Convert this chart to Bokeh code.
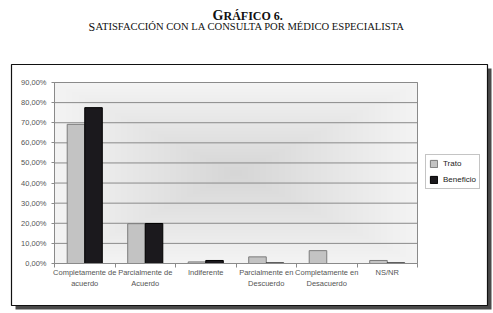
from bokeh.plotting import figure
from bokeh.models import (ColumnDataSource, FixedTicker, Legend, LegendItem,
                          BoxAnnotation, Label)
from bokeh.embed import file_html
from bokeh.resources import INLINE

# ---- data ----
categories = ["Completamente de\nacuerdo", "Parcialmente de\nAcuerdo", "Indiferente",
              "Parcialmente en\nDescuerdo", "Completamente en\nDesacuerdo", "NS/NR"]
trato = [69.2, 19.8, 0.8, 3.3, 6.4, 1.5]
beneficio = [77.5, 19.9, 1.5, 0.3, 0.0, 0.3]
series_names = ["Trato", "Beneficio"]
y_ticks = [0, 10, 20, 30, 40, 50, 60, 70, 80, 90]
y_tick_labels = ["0,00%", "10,00%", "20,00%", "30,00%", "40,00%", "50,00%",
                 "60,00%", "70,00%", "80,00%", "90,00%"]
title_text = "GRÁFICO 6."
subtitle_text = "SATISFACCIÓN CON LA CONSULTA POR MÉDICO ESPECIALISTA"

n = len(categories)
y_max = y_ticks[-1]
centers = [i + 0.5 for i in range(n)]
bw = 0.29
src = ColumnDataSource(dict(
    xt=[c - bw / 2 for c in centers],
    xb=[c + bw / 2 for c in centers],
    trato=trato, beneficio=beneficio))
grid_src = ColumnDataSource(dict(y=y_ticks[1:], x0=[0] * (len(y_ticks) - 1),
                                 x1=[n] * (len(y_ticks) - 1)))

# canvas layout (pixels): plot area left/right/top/bottom
W, H = 493, 313
PL, PR, PT, PB = 54, 417, 82, 263
ux = (PR - PL) / n
uy = (PB - PT) / y_max

p = figure(width=W, height=H, output_backend="svg", toolbar_location=None,
           x_range=(-PL / ux, n + (W - PR) / ux),
           y_range=(-(H - PB) / uy, y_max + PT / uy),
           min_border=0, min_border_left=0, min_border_right=0,
           min_border_top=0, min_border_bottom=0)
p.background_fill_color = "white"
p.border_fill_color = "white"
p.outline_line_color = None
p.grid.visible = False

# outer frame with shadow (screen units: from canvas bottom-left)
def sbox(l, r, t, b, **kw):
    return BoxAnnotation(left=l, right=r, top=t, bottom=b,
                         left_units="screen", right_units="screen",
                         top_units="screen", bottom_units="screen",
                         level="image", **kw)

p.add_layout(sbox(15, 491, H - 68, H - 309,
                  fill_color="#4a4a4a", fill_alpha=1, line_color=None))
p.add_layout(sbox(11, 487, H - 64, H - 305, fill_color="white", fill_alpha=1,
                  line_color="#111111", line_width=1.2, line_alpha=1))

# grey plot area with a soft radial shading (darker toward the middle)
p.add_layout(BoxAnnotation(left=0, right=n, bottom=0, top=y_max,
                           fill_color="#f3f3f3", fill_alpha=1, line_color=None,
                           level="image"))
steps = 30
for k in range(1, steps):
    f = 1 - k / steps
    p.add_layout(BoxAnnotation(left=n / 2 - f * n / 2, right=n / 2 + f * n / 2,
                               bottom=y_max / 2 - f * y_max / 2,
                               top=y_max / 2 + f * y_max / 2,
                               fill_color="#9a9a9a", fill_alpha=0.011,
                               line_color=None, level="image"))
p.add_layout(BoxAnnotation(left=0, right=n, bottom=0, top=y_max,
                           fill_alpha=0, line_color="#8a8a8a", line_width=1,
                           line_alpha=1, level="image"))

# horizontal grid lines
p.segment(x0="x0", x1="x1", y0="y", y1="y", source=grid_src,
          line_color="#8a8a8a", line_width=1)

rt = p.vbar(x="xt", top="trato", width=bw, source=src,
            fill_color="#c3c3c3", line_color="#7c7c7c", line_width=1)
rb = p.vbar(x="xb", top="beneficio", width=bw, source=src,
            fill_color="#1b191d", line_color="#000000", line_width=1)

# axes, fixed at the plot-area edges
xa = p.xaxis[0]
xa.fixed_location = 0
xa.bounds = (0, n)
xa.ticker = FixedTicker(ticks=centers, minor_ticks=list(range(n + 1)))
xa.major_label_overrides = {c: lab for c, lab in zip(centers, categories)}
xa.major_tick_line_color = None
xa.major_tick_out = 0
xa.major_tick_in = 0
xa.minor_tick_line_color = "#8a8a8a"
xa.minor_tick_out = 4
xa.minor_tick_in = 0
xa.axis_line_color = "#8a8a8a"
xa.major_label_standoff = 0
xa.major_label_text_font = "Liberation Sans"
xa.major_label_text_font_size = "7.5px"
xa.major_label_text_color = "#555555"
xa.major_label_text_line_height = 1.25

ya = p.yaxis[0]
ya.fixed_location = 0
ya.bounds = (0, y_max)
ya.ticker = FixedTicker(ticks=y_ticks)
ya.major_label_overrides = {t: lab for t, lab in zip(y_ticks, y_tick_labels)}
ya.minor_tick_line_color = None
ya.major_tick_line_color = "#8a8a8a"
ya.major_tick_out = 3
ya.major_tick_in = 0
ya.axis_line_color = "#8a8a8a"
ya.major_label_standoff = 5
ya.major_label_text_font = "Liberation Sans"
ya.major_label_text_font_size = "7.5px"
ya.major_label_text_color = "#555555"

legend = Legend(items=[LegendItem(label=series_names[0], renderers=[rt]),
                       LegendItem(label=series_names[1], renderers=[rb])],
                location=(PR + 8, H - 189), orientation="vertical",
                margin=0, padding=3, spacing=5,
                glyph_width=9, glyph_height=9, label_height=11,
                label_standoff=5, label_text_font="Liberation Sans",
                label_text_font_size="8px", label_text_color="#222222",
                border_line_color="#8a8a8a", background_fill_color="white",
                background_fill_alpha=1)
p.add_layout(legend)

# titles (small caps imitation), screen units from canvas bottom-left
def lab(x, y, text, size, bold=False):
    return Label(x=x, y=H - y, x_units="screen", y_units="screen", text=text,
                 text_font="Liberation Serif", text_font_size=size,
                 text_font_style="bold" if bold else "normal",
                 text_color="#111111", text_baseline="alphabetic", text_align="left")

p.add_layout(lab(212, 15, title_text[0], "14px", True))
p.add_layout(lab(223, 15, title_text[1:], "12px", True))
p.add_layout(lab(88, 26, subtitle_text[0], "12px"))
p.add_layout(lab(95, 26, subtitle_text[1:], "10.6px"))

open("out.html", "w").write(file_html(p, INLINE))
